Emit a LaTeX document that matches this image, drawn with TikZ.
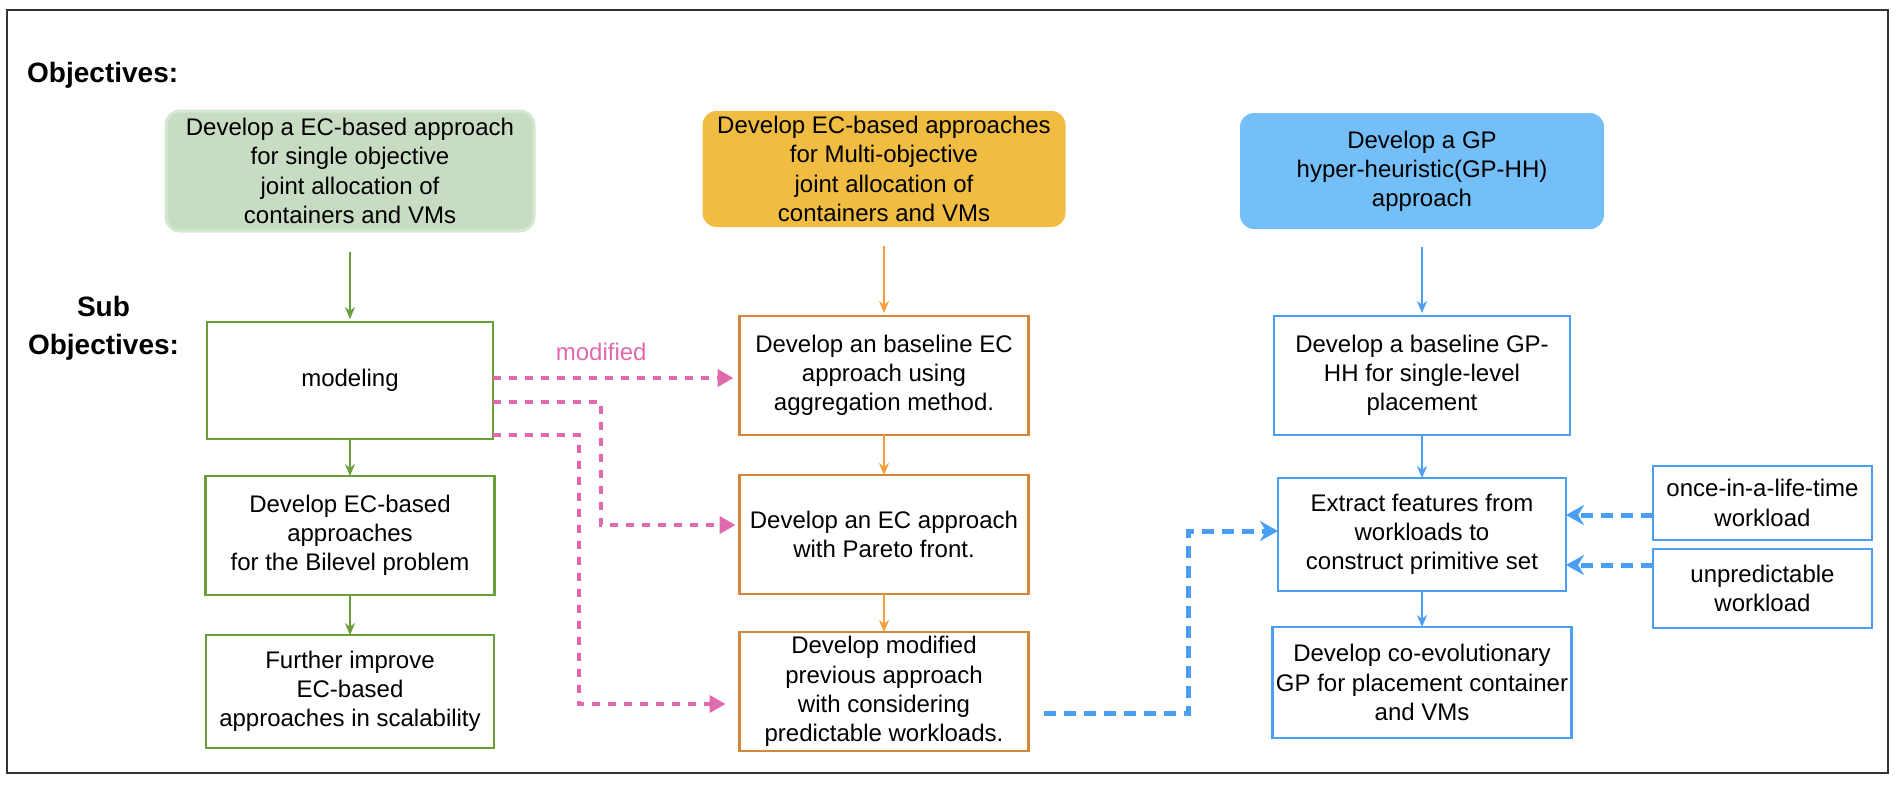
\documentclass[tikz,border=0pt]{standalone}
\usepackage{fontspec}
\setmainfont{Liberation Sans}
\usepackage{tikz}
\usetikzlibrary{
	arrows.meta,
	positioning,
	calc,
	}
\definecolor{goalgreen}{HTML}{C8DCC4}
\definecolor{goalgreenedge}{HTML}{D5E8D2}
\definecolor{goalorange}{HTML}{F0BD42}
\definecolor{goalblue}{HTML}{74BFF8}
\definecolor{linegreen}{HTML}{6A9E3A}
\definecolor{lineorange}{HTML}{D4863A}
\definecolor{arroworange}{HTML}{F2A03C}
\definecolor{lineblue}{HTML}{4A9FF4}
\definecolor{linepink}{HTML}{E06AAC}
\definecolor{framegray}{HTML}{333333}

\begin{document}
\begin{tikzpicture}[x=1pt,y=-1pt,
	txt/.style={align=center,inner sep=0pt,outer sep=0pt,font=\fontsize{24}{29.2}\selectfont},
	goal/.style={txt,rounded corners=14pt},
	task/.style={txt,draw,line width=2.2pt},
	head/.style={align=center,inner sep=0pt,font=\fontsize{28}{38}\selectfont\bfseries}]
\useasboundingbox (0,0) rectangle (1899,788);
\draw[line width=2pt,framegray] (7,10) rectangle (1888,773);
% labels
\node[head,anchor=west] (lobj) at (27,75) {Objectives:};
\node[head] (lsub) at (103.5,328) {Sub\\Objectives:};
% objectives
\node[goal,fill=goalgreen,draw=goalgreenedge,line width=3pt,minimum width=368pt,minimum height=120pt] (go) at (350,171) {Develop a EC-based approach\\for single objective\\joint allocation of\\containers and VMs};
\node[goal,fill=goalorange,minimum width=363pt,minimum height=116pt] (oo) at (884,169) {Develop EC-based approaches\\for Multi-objective\\joint allocation of\\containers and VMs};
\node[goal,fill=goalblue,minimum width=364pt,minimum height=116pt] (bo) at (1422,171) {Develop a GP\\hyper-heuristic(GP-HH)\\approach};
% green column
\node[task,draw=linegreen,minimum width=286pt,minimum height=117pt] (gm) at (350,380.5) {modeling};
\node[task,draw=linegreen,minimum width=289pt,minimum height=119pt] (gb) at (350,535.5) {Develop EC-based\\approaches\\for the Bilevel problem};
\node[task,draw=linegreen,minimum width=288pt,minimum height=113pt] (gi) at (350,691.5) {Further improve\\EC-based\\approaches in scalability};
% orange column
\node[task,draw=lineorange,minimum width=289pt,minimum height=119pt] (o1) at (884,375.5) {Develop an baseline EC\\approach using\\aggregation method.};
\node[task,draw=lineorange,minimum width=289pt,minimum height=119pt] (o2) at (884,534.5) {Develop an EC approach\\with Pareto front.};
\node[task,draw=lineorange,minimum width=289pt,minimum height=119pt] (o3) at (884,691.5) {Develop modified\\previous approach\\with considering\\predictable workloads.};
% blue column
\node[task,draw=lineblue,minimum width=296pt,minimum height=119pt] (b1) at (1422,375.5) {Develop a baseline GP-\\HH for single-level\\placement};
\node[task,draw=lineblue,minimum width=288pt,minimum height=113pt] (b2) at (1422,534.5) {Extract features from\\workloads to\\construct primitive set};
\node[task,draw=lineblue,minimum width=299pt,minimum height=111pt] (b3) at (1422,682.5) {Develop co-evolutionary\\GP for placement container\\and VMs};
\node[task,draw=lineblue,minimum width=219pt,minimum height=74pt] (w1) at (1762.5,503) {once-in-a-life-time\\workload};
\node[task,draw=lineblue,minimum width=219pt,minimum height=79pt] (w2) at (1762.5,588.5) {unpredictable\\workload};
% solid arrows
\draw[line width=2.2pt,linegreen,-{Stealth[length=12pt,width=10pt]},shorten <=21pt,shorten >=3pt] (go) -- (gm);
\draw[line width=2.2pt,linegreen,-{Stealth[length=12pt,width=10pt]}] (gm) -- (gb);
\draw[line width=2.2pt,linegreen,-{Stealth[length=12pt,width=10pt]}] (gb) -- (gi);
\draw[line width=2.2pt,arroworange,-{Stealth[length=12pt,width=10pt]},shorten <=19pt,shorten >=3pt] (oo) -- (o1);
\draw[line width=2.2pt,arroworange,-{Stealth[length=12pt,width=10pt]}] (o1) -- (o2);
\draw[line width=2.2pt,arroworange,-{Stealth[length=12pt,width=10pt]}] (o2) -- (o3);
\draw[line width=2.2pt,lineblue,-{Stealth[length=12pt,width=10pt]},shorten <=18pt,shorten >=3pt] (bo) -- (b1);
\draw[line width=2.2pt,lineblue,-{Stealth[length=12pt,width=10pt]}] (b1) -- (b2);
\draw[line width=2.2pt,lineblue,-{Stealth[length=12pt,width=10pt]}] (b2) -- (b3);
% dashed arrows
\draw[line width=4pt,linepink,dash pattern=on 8pt off 8pt,-{Triangle[length=16pt,width=17pt]}] ([yshift=2.5pt]gm.east) coordinate (p1) -- node[pos=0.45,above=15pt,inner sep=0pt,font=\fontsize{24}{29.2}\selectfont] (lmod) {modified} ([xshift=-6pt]p1 -| o1.west);
\draw[line width=4pt,linepink,dash pattern=on 8pt off 8pt,-{Triangle[length=16pt,width=17pt]}] ([yshift=-21.5pt]gm.east) -- (601,402) |- ([xshift=-4pt,yshift=9.5pt]o2.west);
\draw[line width=4pt,linepink,dash pattern=on 8pt off 8pt,-{Triangle[length=16pt,width=17pt]}] ([yshift=-54.5pt]gm.east) -- (579,435) |- ([xshift=-14pt,yshift=-12.5pt]o3.west);
\draw[line width=5pt,lineblue,dash pattern=on 12pt off 8pt,-{Stealth[length=18pt,width=20pt]}] ([xshift=15pt,yshift=-21.5pt]o3.east) -- (1188,713) |- ([yshift=3.5pt]b2.west);
\draw[line width=5pt,lineblue,dash pattern=on 12pt off 8pt,-{Stealth[length=18pt,width=20pt]}] ([yshift=-12pt]w1.west) coordinate (r1) -- (r1 -| b2.east);
\draw[line width=5pt,lineblue,dash pattern=on 12pt off 8pt,-{Stealth[length=18pt,width=20pt]}] ([yshift=23.5pt]w2.west) coordinate (r2) -- (r2 -| b2.east);
\end{tikzpicture}
\end{document}
